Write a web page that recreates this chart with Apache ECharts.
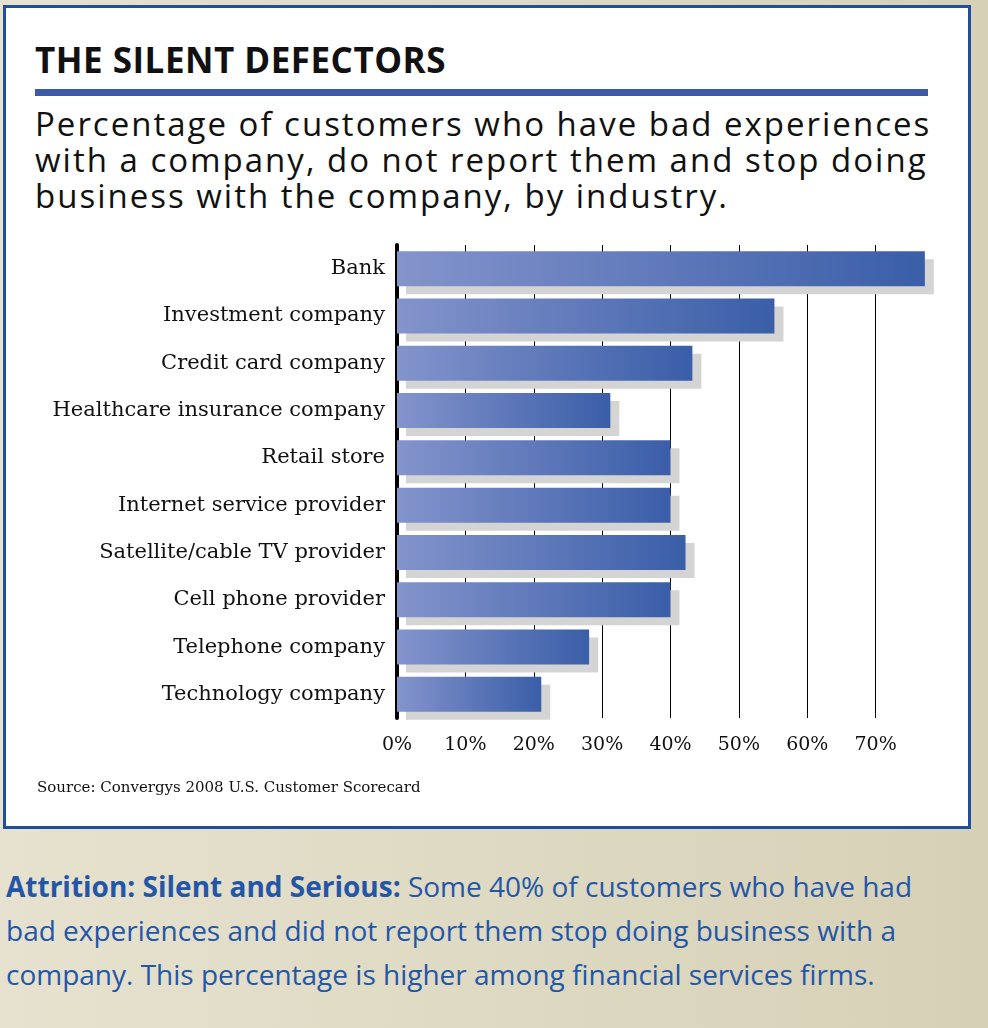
<!DOCTYPE html>
<html><head><meta charset="utf-8">
<script src="https://cdn.jsdelivr.net/npm/echarts@6/dist/echarts.min.js"></script>
<style>
body{margin:0;width:988px;height:1028px;background:linear-gradient(90deg,#e6e2cf,#d6d1b6);position:relative;overflow:hidden;font-family:"Open Sans",sans-serif}
#box{position:absolute;left:3px;top:5px;width:962px;height:818px;background:#fff;border:3px solid #1f4e9a}
#title{position:absolute;left:35px;top:36px;font-size:35px;font-weight:bold;color:#111;letter-spacing:0.5px}
#rule{position:absolute;left:35px;top:89px;width:893px;height:7px;background:#3c5aa6}
#sub{position:absolute;left:35px;top:106px;font-size:33px;line-height:36px;color:#111;letter-spacing:2px}
#chart{position:absolute;left:0;top:0;width:988px;height:830px}
#src{position:absolute;left:37px;top:778px;font-family:"DejaVu Serif",serif;font-size:15px;color:#111}
#cap{position:absolute;left:6px;top:864px;font-size:28px;line-height:44px;color:#2456a8;white-space:nowrap}
</style></head><body>
<div id="box"></div>
<div id="title">THE SILENT DEFECTORS</div>
<div id="rule"></div>
<div id="sub">Percentage of customers who have bad experiences<br>with a company, do not report them and stop doing<br>business with the company, by industry.</div>
<div id="chart"></div>
<div id="src">Source: Convergys 2008 U.S. Customer Scorecard</div>
<div id="cap"><b>Attrition: Silent and Serious:</b> Some 40% of customers who have had<br>bad experiences and did not report them stop doing business with a<br>company. This percentage is higher among financial services firms.</div>
<script>
const categories = ['Bank','Investment company','Credit card company','Healthcare insurance company','Retail store','Internet service provider','Satellite/cable TV provider','Cell phone provider','Telephone company','Technology company'];
const values = [77.2, 55.2, 43.2, 31.2, 40, 40, 42.2, 40, 28.1, 21.1];
const tickLabels = ['0%','10%','20%','30%','40%','50%','60%','70%'];

let chart = echarts.init(document.getElementById('chart'));
chart.setOption({
    animation: false,
    grid: {left: 397, right: 44, top: 245, bottom: 112},
    xAxis: {
        type: 'value', min: 0, max: 80, interval: 10,
        axisLine: {show: false}, axisTick: {show: false},
        splitLine: {show: true, showMaxLine: false, lineStyle: {color: '#000', width: 1}},
        axisLabel: {
            formatter: v => tickLabels[v / 10] || '',
            fontFamily: 'DejaVu Serif', fontSize: 19, color: '#111', margin: 18
        }
    },
    yAxis: {
        type: 'category', inverse: true, data: categories,
        axisLine: {show: true, lineStyle: {color: '#000', width: 4}},
        axisTick: {show: false},
        axisLabel: {fontFamily: 'DejaVu Serif', fontSize: 21, color: '#111', margin: 12}
    },
    series: [{
        type: 'bar', data: values, barWidth: 35,
        itemStyle: {
            color: new echarts.graphic.LinearGradient(0, 0, 1, 0, [
                {offset: 0, color: '#8494cc'}, {offset: 1, color: '#3a5ea8'}
            ]),
            shadowColor: '#d4d4d4', shadowOffsetX: 9, shadowOffsetY: 8, shadowBlur: 0
        }
    }]
});
</script>
</body></html>
